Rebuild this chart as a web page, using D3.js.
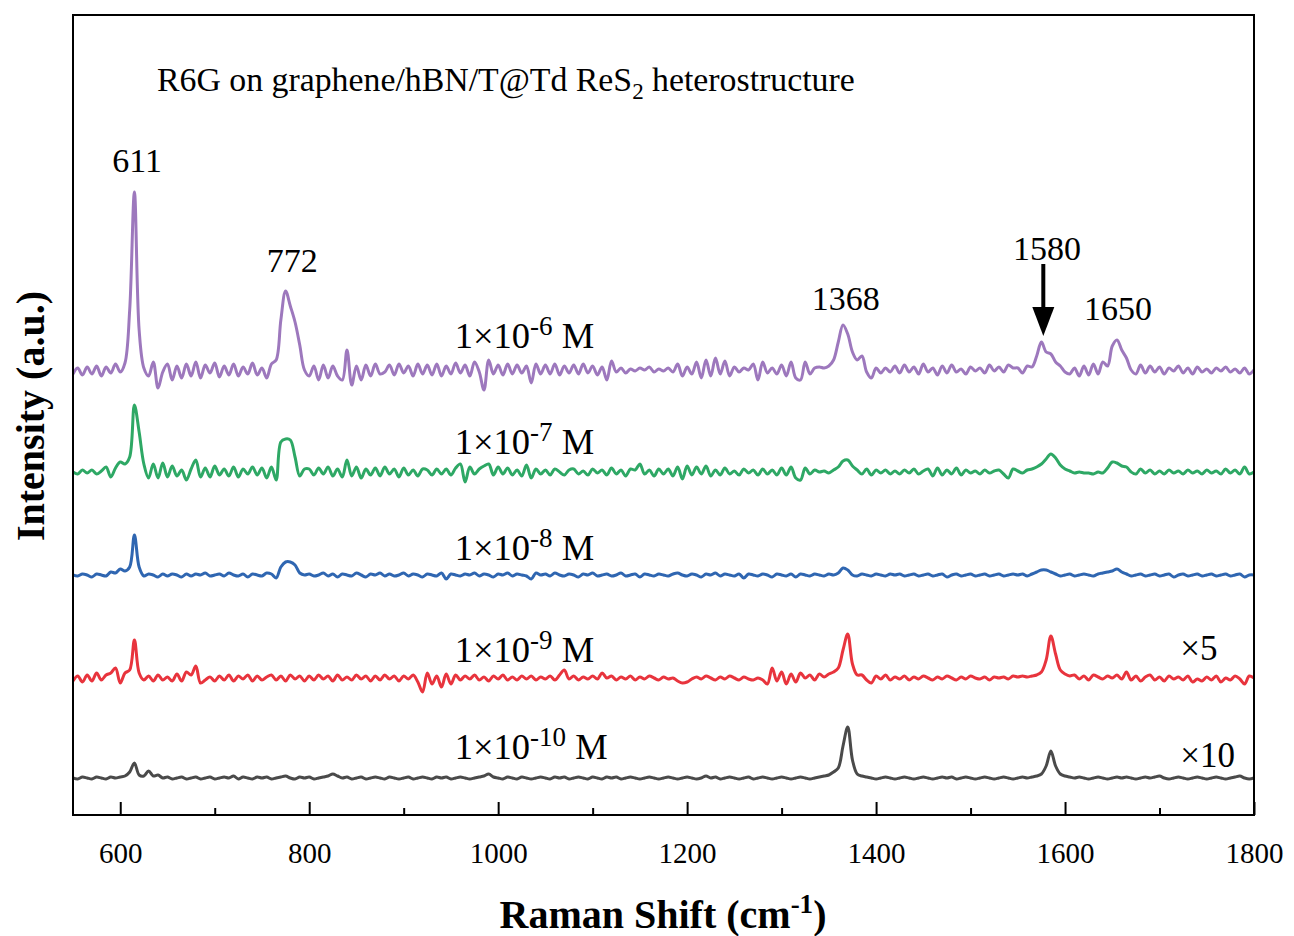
<!DOCTYPE html>
<html>
<head>
<meta charset="utf-8">
<script src="https://cdn.jsdelivr.net/npm/d3@7"></script>
<style>
body { margin: 0; background: #fff; }
svg text { font-family: "Liberation Serif", "Times New Roman", serif !important; fill: #000; }
</style>
</head>
<body>
<svg id="graph"></svg>
<script>
const graph = d3.select('#graph')

//set dimensions
const width = 1294
const height = 936
const margin = {top: 15, bottom: 121, left: 73, right: 40}

graph.attr('width', width).attr('height', height)

// raman shift grid (cm-1), one sample every 5 cm-1
const shift = d3.range(550, 1801, 5)

// intensities above each trace's baseline (a.u.), rows of 25 samples = 125 cm-1
const c6 = [
  -4,2,-5,3,-4,4,-6,3,-3,6,-2,7,60,178,40,2,-6,8,-18,-2,6,-10,4,-8,6,
  -6,8,-8,5,-3,7,-7,4,-5,6,-6,3,-4,7,-5,2,-8,6,10,50,79,64,48,25,0,
  -6,4,-10,5,-8,4,-6,-10,20,-15,4,-10,5,-6,6,-4,-2,5,-5,6,-3,4,-6,6,-4,
  5,-5,6,-6,4,-4,7,-3,5,-6,8,-2,-20,10,-4,5,-5,6,-4,5,-3,4,-13,6,-4,
  5,-4,6,-5,4,-3,5,-4,6,-3,4,-5,3,-10,9,-2,2,-3,1,-1,2,0,3,-2,1,
  -1,2,-2,6,-6,3,-4,8,-8,10,-6,12,-4,9,-6,3,-2,2,0,6,-10,8,-3,2,-4,
  5,-6,8,-8,-10,8,-4,2,3,2,4,10,28,45,36,18,10,14,-2,-8,2,-3,2,-2,4,
  -3,5,-2,3,-4,6,-2,2,-5,4,-3,5,-2,1,-4,3,-1,2,-3,5,-1,3,-2,5,2,
  2,-3,4,3,14,28,18,16,8,4,-2,-4,2,-6,4,-5,6,-4,8,4,24,30,20,12,0,
  -4,5,-3,4,-2,3,-4,2,-1,4,-3,2,-4,3,-2,1,-3,2,-1,3,-2,1,-3,2,-4,
  0
]
const c7 = [
  0,-2,2,-1,2,-2,1,5,-5,4,10,8,15,67,40,8,-6,8,-6,9,-5,6,-4,2,-8,
  3,12,-5,4,-5,6,-3,3,-4,5,-5,3,-2,5,-3,4,-6,5,-8,30,33,32,15,-4,3,
  3,-3,4,-2,5,-4,3,-5,12,-4,5,-6,3,-3,4,-4,5,-2,3,-5,4,-3,2,-4,3,
  2,-3,3,-2,3,-3,4,8,-10,5,-2,3,6,8,-3,5,-2,4,-3,2,-4,7,-6,3,-2,
  2,-3,3,0,-3,2,3,-2,1,-3,3,-1,2,-3,4,-2,2,-4,3,2,8,-2,2,-4,3,
  -2,3,-4,5,-7,6,-3,5,-2,6,-4,2,-3,4,-2,1,-3,3,-1,2,-3,3,-2,2,-3,
  4,-3,5,-6,-8,4,-2,2,0,1,-1,2,5,11,12,6,2,-2,3,-3,2,-1,2,-2,1,
  -2,2,-1,3,-2,1,3,-4,4,-3,2,-2,4,-3,2,-1,1,-2,2,-1,1,2,-2,-6,3,
  1,-1,2,3,5,8,13,18,14,7,3,1,-1,0,-1,-1,-2,0,-1,4,10,9,6,5,0,
  -2,3,-1,2,-2,1,-2,2,-1,1,-2,2,-1,1,-2,2,-1,1,-2,3,-1,2,-2,5,-2,
  0
]
const c8 = [
  0,-1,1,0,-2,1,0,-1,3,2,6,4,8,40,8,-1,1,0,-2,1,-1,1,0,-2,1,
  -1,1,0,2,-1,0,1,-1,2,0,-1,1,-2,1,0,-1,2,1,-3,8,13,13,10,2,0,
  1,-1,0,2,-1,1,-2,1,0,-1,2,0,-2,1,0,2,-1,1,-1,0,2,-1,1,0,-2,
  1,0,-1,2,-4,1,0,-1,1,0,2,-1,1,0,-2,1,0,2,-1,1,0,-1,-4,2,0,
  1,-1,2,0,-1,1,0,-2,1,0,2,-1,0,1,-1,0,2,-1,0,1,-2,1,0,-1,1,
  0,-1,1,2,0,-1,1,0,-2,1,0,2,-1,1,0,-1,1,-3,1,0,-1,1,0,-2,1,
  0,-1,1,-2,1,0,-1,1,0,-1,1,0,2,7,5,0,-1,1,0,-1,1,0,-1,1,0,
  1,-1,0,1,-1,0,1,-1,0,1,-2,0,1,-1,0,1,-1,0,1,-1,0,1,-1,0,1,
  0,1,-1,1,3,5,5,3,1,-1,0,1,-1,0,1,0,-1,1,2,3,4,6,3,1,-1,
  0,1,-1,0,1,-1,0,1,-2,0,1,-1,0,1,-1,0,1,-1,0,1,-1,0,1,-2,0,
  0
]
const c9 = [
  -3,2,-4,3,-3,5,-2,3,5,10,-5,5,8,38,5,-2,2,-3,3,-2,1,-3,4,-3,6,
  3,12,-5,-2,1,-3,2,-2,3,-3,2,-1,3,-3,2,-2,1,3,-2,2,-3,3,-1,2,-3,
  2,-2,3,-1,2,-3,3,-2,1,-2,3,-1,2,-3,2,-2,3,-1,2,-3,2,-1,3,-4,-14,
  5,-6,2,-9,4,-6,3,-2,2,-1,3,-2,1,-3,2,-1,3,-2,1,-2,2,-1,2,-2,1,
  -1,2,-2,3,8,-1,2,-2,1,-1,2,-1,5,0,2,-2,1,-1,2,-2,1,-1,2,0,-2,
  1,-1,0,-3,-5,-4,-1,1,-1,2,0,-2,1,-1,2,0,-2,1,-1,-2,0,-2,-6,10,-3,
  6,-6,4,-4,5,0,3,-2,4,1,4,6,10,28,44,14,3,3,-2,-5,2,-1,3,-2,1,
  -1,2,-2,1,-1,2,0,-2,1,-1,2,0,-2,1,-1,2,0,-1,1,-2,1,0,1,-1,2,
  1,2,1,2,3,6,18,42,24,8,4,2,3,-1,2,-2,3,1,-1,2,0,3,-1,6,-2,
  2,-3,1,3,-2,1,-3,2,-1,1,-2,2,-4,-1,-3,1,-2,2,-4,0,-2,2,-1,-6,2,
  0
]
const c10 = [
  0,-1,1,0,-1,1,0,-1,1,0,1,2,6,15,3,2,7,2,3,0,1,-1,0,1,-1,
  0,1,-1,0,1,-1,0,1,0,2,-1,1,0,-1,1,0,1,-1,0,1,2,0,-1,1,0,
  1,-1,0,1,2,4,2,0,1,-1,0,1,-1,0,1,0,-1,1,0,-1,0,1,-1,0,1,
  0,-1,1,0,1,-1,0,1,0,-1,0,1,2,4,1,0,-1,1,0,-1,1,0,-1,0,1,
  0,-1,1,0,1,-1,0,1,0,-1,1,0,-1,1,0,1,-1,0,1,0,-1,0,1,0,-1,
  0,1,0,-1,0,1,0,-1,0,2,0,1,-1,0,1,0,-1,0,1,-1,0,1,0,-1,0,
  1,0,-1,0,1,0,-1,0,1,2,3,6,10,32,51,18,4,2,1,0,-1,0,1,0,-1,
  0,1,0,-1,0,1,0,-1,0,1,0,1,-1,0,1,0,-1,0,1,0,-1,0,1,0,-1,
  0,1,0,1,2,4,12,27,12,4,2,1,0,1,0,-1,0,1,0,-1,0,1,0,1,0,
  -1,0,1,0,1,2,0,-1,0,1,0,-1,0,1,0,-1,0,1,0,-1,0,1,2,0,-1,
  0
]

const spectra = [c6, c7, c8, c9, c10]
const offsets = [445, 343, 240, 137, 37]          // stacking offset of each trace
const concExp = ['-6', '-7', '-8', '-9', '-10']
const concLabelY = [467, 361, 255, 153, 56]
const colors = ['#9d78bd', '#2ea865', '#2f66b1', '#e8343d', '#4a4a4a']

// peak annotations
const peakNames = ['611', '772', '1368', '1580', '1650']
const peakX = [618, 782, 1368, 1581, 1656]
const peakY = [643, 543, 505, 555, 495]
const factors = [{t: '×5', x: 1722, y: 155}, {t: '×10', x: 1722, y: 48}]

//set scales
const x_scale = d3.scaleLinear().domain([550, 1800]).range([margin.left, width - margin.right])
const y_scale = d3.scaleLinear().domain([0, 800]).range([height - margin.bottom, margin.top])

graph.append('defs').append('clipPath').attr('id', 'plot')
  .append('rect')
  .attr('x', margin.left).attr('y', margin.top)
  .attr('width', width - margin.left - margin.right)
  .attr('height', height - margin.top - margin.bottom)

const line = d3.line()
  .curve(d3.curveCatmullRom.alpha(0.5))
  .x((d, i) => x_scale(shift[i]))

graph.append('g').attr('clip-path', 'url(#plot)')
  .selectAll('path')
  .data(spectra)
  .enter()
  .append('path')
  .attr('fill', 'none')
  .attr('stroke', (d, i) => colors[i])
  .attr('stroke-width', 3)
  .attr('stroke-linejoin', 'round')
  .attr('d', (d, k) => line.y(v => y_scale(v + offsets[k]))(d))

// frame
graph.append('rect')
  .attr('x', margin.left).attr('y', margin.top)
  .attr('width', width - margin.left - margin.right)
  .attr('height', height - margin.top - margin.bottom)
  .attr('fill', 'none').attr('stroke', '#000').attr('stroke-width', 2)

// x axis, ticks inward
const x_axis = d3.axisBottom(x_scale)
  .tickValues(d3.range(600, 1801, 200))
  .tickFormat(d3.format('d'))
  .tickSize(-13).tickPadding(27)
const x_minor = d3.axisBottom(x_scale).tickValues(d3.range(700, 1800, 200)).tickSize(-7).tickFormat('')

const gx = graph.append('g')
  .attr('transform', `translate(0,${height - margin.bottom})`)
  .call(x_axis)
  .attr('font-family', '"Liberation Serif", serif')
  .attr('font-size', 29)
gx.select('.domain').remove()
gx.selectAll('line').attr('stroke-width', 2)
gx.selectAll('text')
  .attr('fill', '#000')
  .style('font-family', '"Liberation Serif", serif')

const gm = graph.append('g')
  .attr('transform', `translate(0,${height - margin.bottom})`)
  .call(x_minor)
gm.select('.domain').remove()
gm.selectAll('line').attr('stroke-width', 2)

// axis titles
const xt = graph.append('text')
  .attr('x', 663).attr('y', 928)
  .attr('text-anchor', 'middle')
  .attr('font-size', 40).attr('font-weight', 'bold')
xt.append('tspan').text('Raman Shift (cm')
xt.append('tspan').attr('font-size', 27).attr('dy', -15).text('-1')
xt.append('tspan').attr('dy', 15).text(')')

graph.append('text')
  .attr('transform', `translate(44,416) rotate(-90)`)
  .attr('text-anchor', 'middle')
  .attr('font-size', 40).attr('font-weight', 'bold')
  .text('Intensity (a.u.)')

// title inside plot
const title = graph.append('text')
  .attr('x', 157).attr('y', 91)
  .attr('font-size', 33.8)
title.append('tspan').text('R6G on graphene/hBN/T@Td ReS')
title.append('tspan').attr('font-size', 23).attr('dy', 8).text('2')
title.append('tspan').attr('dy', -8).text(' heterostructure')

// concentration labels
concExp.forEach((e, i) => {
  const t = graph.append('text')
    .attr('x', x_scale(954)).attr('y', y_scale(concLabelY[i]))
    .attr('font-size', 36.5)
  t.append('tspan').text('1×10')
  t.append('tspan').attr('font-size', 27).attr('dy', -13).text(e)
  t.append('tspan').attr('dy', 13).text(' M')
})

// peak labels
graph.selectAll('.peak')
  .data(peakNames)
  .enter()
  .append('text')
  .attr('class', 'peak')
  .attr('x', (d, i) => x_scale(peakX[i]))
  .attr('y', (d, i) => y_scale(peakY[i]))
  .attr('text-anchor', 'middle')
  .attr('font-size', 34)
  .text(d => d)

factors.forEach(f => {
  graph.append('text')
    .attr('x', x_scale(f.x)).attr('y', y_scale(f.y))
    .attr('font-size', 35)
    .text(f.t)
})

// arrow on the 1580 band
const ax = x_scale(1577)
graph.append('line')
  .attr('x1', ax).attr('x2', ax)
  .attr('y1', y_scale(551)).attr('y2', y_scale(500))
  .attr('stroke', '#000').attr('stroke-width', 4)
graph.append('path')
  .attr('d', `M${ax - 11},${y_scale(508)} L${ax + 11},${y_scale(508)} L${ax},${y_scale(479)} Z`)
  .attr('fill', '#000')
</script>
</body>
</html>
